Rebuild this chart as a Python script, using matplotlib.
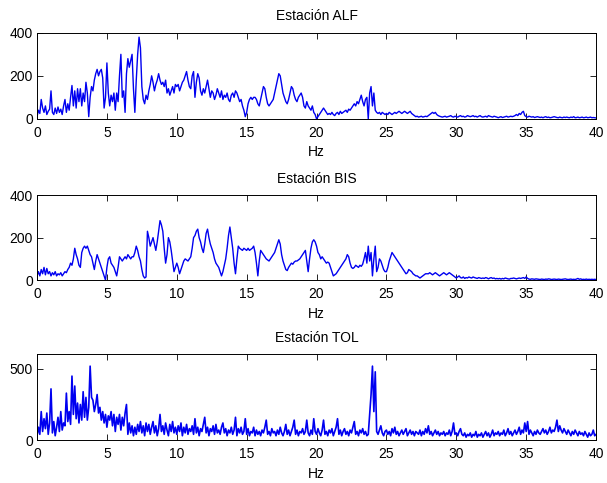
import numpy as np
import matplotlib
matplotlib.use("Agg")
import matplotlib.pyplot as plt

plt.rcParams['font.family'] = ['Liberation Sans', 'DejaVu Sans']
plt.rcParams['font.size'] = 10

# frecuencias (0 a 40 Hz, paso 0.1 Hz)
freqs = np.round(np.arange(0, 401) * 0.1, 1)

alf = [
    10, 40, 25, 90, 50, 30, 60, 20, 35, 45,
    130, 30, 20, 50, 25, 55, 30, 45, 20, 60,
    90, 30, 70, 40, 100, 155, 60, 130, 50, 140,
    80, 140, 60, 120, 80, 170, 120, 10, 100, 150,
    130, 180, 210, 230, 200, 220, 230, 190, 50, 100,
    260, 120, 60, 110, 80, 120, 40, 120, 80, 200,
    300, 100, 130, 30, 210, 280, 240, 270, 300, 140,
    30, 180, 300, 380, 330, 150, 90, 70, 110, 90,
    130, 160, 200, 170, 130, 160, 180, 210, 180, 160,
    170, 150, 180, 120, 140, 110, 130, 150, 120, 160,
    150, 160, 130, 150, 170, 180, 200, 220, 180, 150,
    140, 200, 220, 100, 170, 210, 190, 130, 110, 140,
    120, 150, 180, 140, 100, 130, 120, 90, 110, 140,
    120, 100, 130, 90, 110, 100, 120, 90, 80, 110,
    120, 100, 130, 120, 100, 80, 90, 60, 40, 10,
    30, 70, 90, 100, 90, 100, 100, 90, 70, 60,
    90, 120, 150, 140, 100, 70, 60, 70, 80, 90,
    120, 150, 180, 210, 200, 160, 120, 100, 80, 70,
    90, 120, 150, 140, 110, 90, 80, 100, 110, 120,
    100, 60, 50, 80, 60, 50, 40, 60, 30, 20,
    0, 10, 20, 30, 40, 50, 40, 30, 20, 25,
    20, 30, 20, 15, 25, 30, 20, 35, 25, 30,
    35, 40, 30, 45, 40, 50, 60, 70, 60, 80,
    70, 90, 110, 80, 60, 90, 100, 0, 120, 150,
    60, 120, 40, 30, 25, 30, 20, 30, 25, 20,
    25, 20, 30, 25, 20, 25, 30, 25, 30, 35,
    30, 25, 30, 35, 30, 25, 30, 35, 25, 20,
    15, 10, 12, 8, 10, 12, 8, 10, 12, 10,
    15, 20, 25, 30, 25, 30, 20, 15, 12, 10,
    8, 10, 12, 8, 10, 12, 15, 10, 8, 12,
    10, 8, 12, 15, 10, 12, 8, 10, 15, 12,
    10, 12, 15, 10, 12, 8, 12, 15, 10, 8,
    10, 12, 8, 15, 12, 10, 8, 12, 10, 8,
    5, 8, 10, 6, 8, 10, 12, 8, 10, 12,
    10, 12, 15, 20, 15, 25, 20, 30, 35, 15,
    10, 8, 12, 10, 8, 10, 6, 8, 10, 8,
    6, 8, 5, 8, 10, 6, 8, 5, 6, 8,
    10, 8, 6, 5, 8, 6, 5, 8, 6, 8,
    6, 5, 8, 6, 10, 5, 6, 8, 5, 6,
    8, 5, 6, 8, 5, 6, 8, 5, 6, 5,
    4,
]

bis = [
    20, 40, 20, 50, 30, 60, 25, 55, 30, 40,
    20, 35, 25, 40, 20, 30, 25, 35, 20, 30,
    40, 35, 50, 60, 80, 70, 100, 150, 120, 100,
    70, 60, 130, 150, 160, 150, 160, 140, 120, 110,
    80, 50, 90, 120, 100, 80, 60, 40, 20, 0,
    60, 100, 110, 80, 70, 60, 40, 20, 60, 110,
    100, 90, 100, 110, 100, 120, 110, 100, 110, 110,
    130, 160, 140, 110, 90, 50, 20, 10, 15, 230,
    200, 160, 180, 200, 170, 140, 180, 230, 280, 260,
    230, 150, 80, 120, 200, 180, 140, 90, 40, 60,
    80, 60, 30, 50, 70, 90, 100, 95, 90, 100,
    110, 150, 200, 210, 230, 240, 200, 180, 150, 130,
    170, 220, 240, 200, 170, 150, 130, 100, 80, 70,
    60, 40, 20, 40, 70, 100, 150, 210, 250, 200,
    150, 80, 30, 100, 160, 150, 145, 140, 150, 145,
    140, 150, 140, 145, 150, 160, 130, 80, 20, 90,
    140, 130, 120, 110, 100, 95, 90, 100, 110, 120,
    130, 150, 170, 190, 170, 120, 90, 70, 50, 45,
    60, 70, 80, 75, 85, 90, 90, 95, 100, 110,
    120, 130, 140, 90, 40, 100, 150, 180, 190, 180,
    160, 130, 120, 100, 110, 100, 90, 80, 85, 80,
    60, 40, 20, 25, 30, 40, 50, 60, 70, 80,
    90, 100, 120, 110, 80, 60, 55, 60, 70, 65,
    60, 70, 65, 75, 100, 130, 80, 160, 90, 130,
    20, 100, 160, 40, 60, 100, 90, 70, 50, 40,
    40, 60, 90, 110, 130, 120, 110, 100, 90, 80,
    70, 60, 50, 40, 30, 35, 50, 45, 40, 30,
    25, 20, 20, 15, 10, 15, 20, 25, 30, 30,
    30, 35, 30, 25, 30, 35, 30, 25, 20, 25,
    30, 35, 30, 25, 30, 35, 30, 25, 20, 15,
    10, 15, 20, 12, 10, 15, 8, 12, 10, 15,
    12, 10, 15, 12, 10, 8, 12, 10, 8, 10,
    8, 12, 10, 6, 10, 12, 8, 10, 6, 8,
    6, 8, 5, 8, 6, 10, 8, 6, 5, 8,
    8, 10, 8, 6, 8, 10, 8, 10, 12, 8,
    15, 8, 5, 4, 6, 5, 4, 6, 5, 4,
    3, 5, 4, 3, 5, 4, 6, 5, 3, 4,
    5, 4, 3, 5, 4, 3, 4, 5, 6, 4,
    3, 4, 5, 3, 4, 3, 5, 8, 4, 6,
    3, 4, 3, 5, 3, 4, 3, 4, 3, 4,
    3,
]

tol = [
    30, 90, 40, 200, 60, 150, 80, 190, 40, 120,
    360, 50, 130, 30, 90, 160, 60, 200, 70, 120,
    100, 330, 130, 200, 110, 450, 180, 380, 150, 260,
    120, 250, 140, 340, 160, 300, 140, 230, 520, 300,
    280, 200, 250, 320, 190, 230, 140, 200, 120, 180,
    90, 170, 140, 200, 100, 180, 60, 160, 110, 180,
    70, 160, 100, 190, 250, 40, 120, 50, 100, 30,
    90, 40, 110, 60, 130, 50, 100, 30, 120, 60,
    110, 40, 90, 130, 50, 100, 30, 80, 180, 60,
    100, 40, 120, 70, 30, 110, 60, 130, 50, 90,
    40, 100, 60, 120, 30, 90, 50, 110, 40, 80,
    60, 100, 40, 150, 50, 90, 30, 80, 60, 110,
    160, 50, 90, 30, 80, 60, 100, 40, 110, 50,
    70, 40, 90, 120, 50, 80, 30, 70, 50, 90,
    40, 70, 160, 30, 80, 50, 90, 40, 60, 150,
    40, 80, 30, 60, 50, 90, 30, 70, 40, 60,
    30, 70, 50, 90, 140, 40, 60, 30, 80, 50,
    60, 30, 70, 40, 90, 50, 30, 60, 110, 40,
    70, 30, 60, 90, 140, 40, 70, 30, 60, 50,
    80, 40, 60, 140, 50, 30, 70, 40, 150, 60,
    40, 80, 50, 30, 70, 140, 40, 60, 30, 70,
    50, 80, 30, 60, 90, 150, 40, 70, 30, 60,
    80, 40, 60, 30, 70, 50, 90, 130, 40, 60,
    30, 70, 50, 80, 40, 60, 30, 40, 180, 320,
    520, 200, 480, 60, 40, 70, 100, 50, 30, 60,
    70, 40, 60, 30, 80, 50, 90, 40, 60, 30,
    50, 70, 40, 60, 80, 30, 50, 70, 40, 60,
    30, 60, 50, 40, 70, 30, 60, 40, 80, 50,
    100, 40, 60, 30, 50, 70, 40, 60, 30, 50,
    40, 60, 30, 50, 40, 70, 30, 60, 120, 40,
    50, 30, 60, 80, 40, 30, 50, 20, 40, 30,
    50, 20, 40, 30, 60, 20, 40, 30, 50, 20,
    40, 60, 30, 50, 20, 40, 70, 30, 50, 40,
    60, 30, 50, 40, 70, 30, 50, 80, 40, 60,
    30, 50, 70, 40, 60, 90, 40, 70, 50, 120,
    60, 130, 40, 70, 50, 30, 60, 40, 70, 50,
    40, 60, 80, 50, 70, 40, 60, 90, 50, 70,
    60, 90, 140, 60, 100, 70, 50, 80, 60, 40,
    70, 50, 30, 60, 40, 70, 50, 30, 60, 40,
    50, 30, 60, 40, 20, 50, 30, 40, 70, 30,
    40,
]

titles = ["Estación ALF", "Estación BIS", "Estación TOL"]
series = [alf, bis, tol]
ylims = [(0, 400), (0, 400), (0, 605)]
yticks = [[0, 200, 400], [0, 200, 400], [0, 500]]
grosores = [1.0, 1.0, 1.2]

fig = plt.figure(figsize=(6.07, 4.83), dpi=100)
# posiciones de los ejes [izq, abajo, ancho, alto]
posiciones = [[0.061, 0.754, 0.921, 0.178],
              [0.061, 0.420, 0.921, 0.176],
              [0.061, 0.089, 0.921, 0.178]]

for pos, titulo, datos, yl, yt, lw in zip(posiciones, titles, series, ylims, yticks, grosores):
    ax = fig.add_axes(pos)
    ax.plot(freqs, datos, color='#0000f0', linewidth=lw)
    ax.set_xlim(0, 40)
    ax.set_ylim(*yl)
    ax.set_xticks([0, 5, 10, 15, 20, 25, 30, 35, 40])
    ax.set_yticks(yt)
    ax.tick_params(direction='in', top=True, right=True, length=4, width=0.6)
    ax.tick_params(axis='x', pad=5)
    ax.tick_params(axis='y', pad=3)
    for s in ax.spines.values():
        s.set_linewidth(0.7)
    ax.set_title(titulo, fontsize=10, pad=9)
    ax.set_xlabel("Hz", labelpad=4)

fig.savefig("out.png", dpi=100)
